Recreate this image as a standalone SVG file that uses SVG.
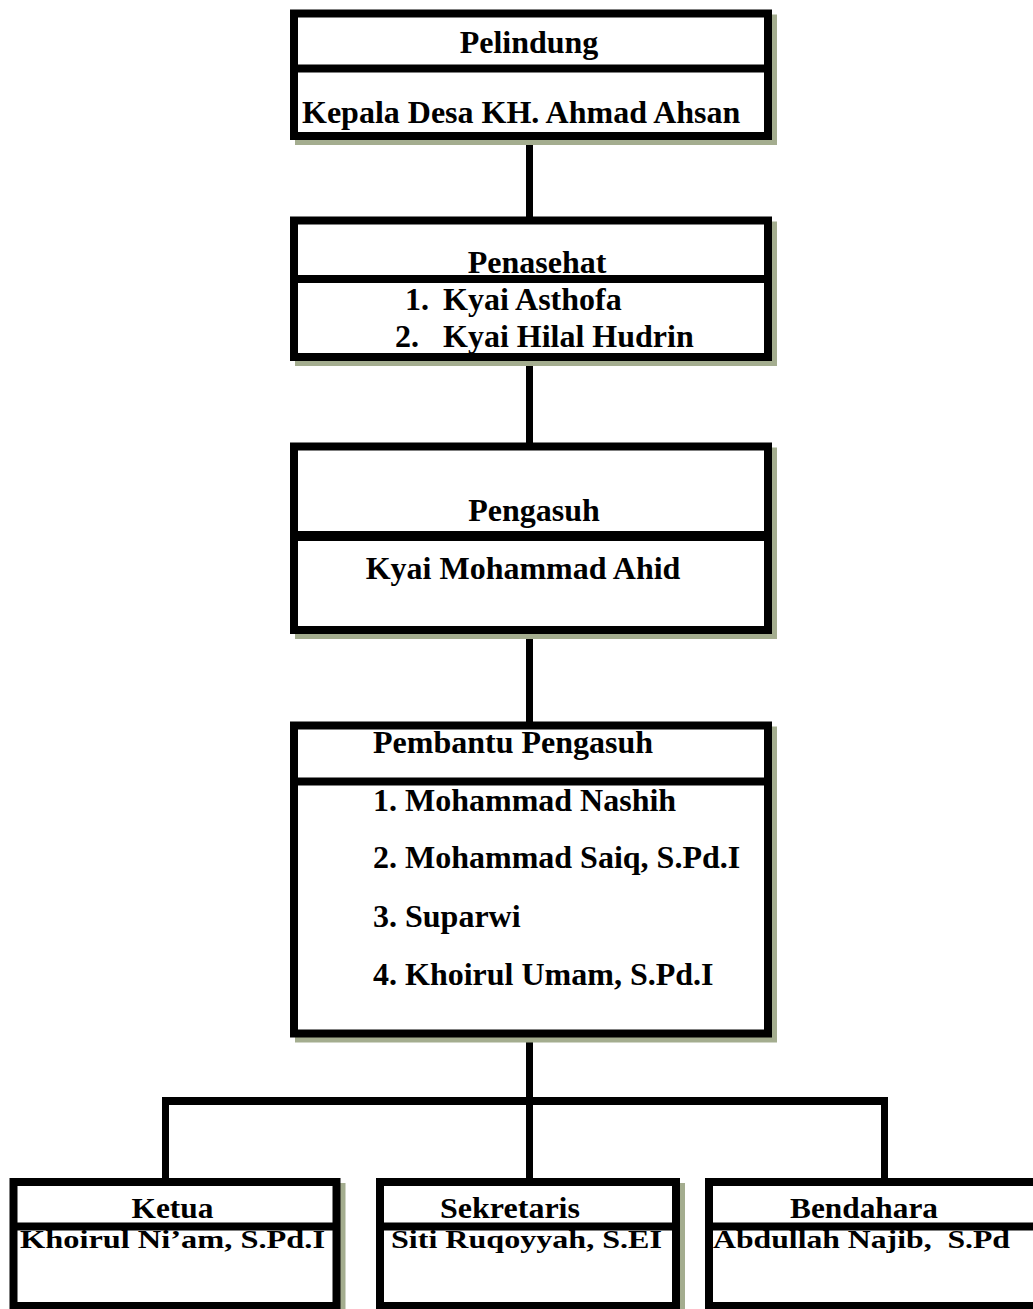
<svg xmlns="http://www.w3.org/2000/svg" width="1033" height="1309" viewBox="0 0 1033 1309">
<style>
.box{fill:#ffffff;stroke:#000000;stroke-width:8}
.div{stroke:#000000;stroke-width:8}
.sh{fill:#a4ad8f;stroke:#a4ad8f;stroke-width:8}
.shd{stroke:#a4ad8f;stroke-width:8}
.t{font-family:"Liberation Serif","Times New Roman",serif;font-weight:bold;font-size:32px;fill:#000000}
.h{font-size:29px}
.n{font-size:26px}
.m{text-anchor:middle}
.con{stroke:#000000;stroke-width:7;fill:none}
</style>
<rect width="1033" height="1309" fill="#ffffff"/>
<g id="connectors">
<line class="con" x1="529.5" y1="138" x2="529.5" y2="218"/>
<line class="con" x1="529.5" y1="355" x2="529.5" y2="444"/>
<line class="con" x1="529.5" y1="628" x2="529.5" y2="723"/>
<line class="con" x1="529.5" y1="1032" x2="529.5" y2="1180"/>
<line class="con" x1="162" y1="1101" x2="888" y2="1101" style="stroke-width:8"/>
<line class="con" x1="165.5" y1="1101" x2="165.5" y2="1180"/>
<line class="con" x1="884.5" y1="1101" x2="884.5" y2="1180"/>
</g>
<g id="pelindung">
<g transform="translate(5,5)"><rect class="sh" x="294" y="13.5" width="474" height="122.5"/><line class="shd" x1="290" y1="68.5" x2="772" y2="68.5"/></g>
<rect class="box" x="294" y="13.5" width="474" height="122.5"/>
<line class="div" x1="290" y1="68.5" x2="772" y2="68.5"/>
<text class="t m" x="529" y="53">Pelindung</text>
<text class="t" x="302" y="123">Kepala Desa KH. Ahmad Ahsan</text>
</g>
<g id="penasehat">
<g transform="translate(5,5)"><rect class="sh" x="294" y="220.5" width="474" height="136.5"/><line class="shd" x1="290" y1="279" x2="772" y2="279"/></g>
<rect class="box" x="294" y="220.5" width="474" height="136.5"/>
<line class="div" x1="290" y1="279" x2="772" y2="279"/>
<text class="t m" x="537" y="273">Penasehat</text>
<text class="t" x="405" y="310">1.</text>
<text class="t" x="443" y="310">Kyai Asthofa</text>
<text class="t" x="395" y="347">2.</text>
<text class="t" x="443" y="347">Kyai Hilal Hudrin</text>
</g>
<g id="pengasuh">
<g transform="translate(5,5)"><rect class="sh" x="294" y="446.5" width="474" height="183.5"/><line class="shd" x1="290" y1="536" x2="772" y2="536" style="stroke-width:10"/></g>
<rect class="box" x="294" y="446.5" width="474" height="183.5"/>
<line class="div" x1="290" y1="536" x2="772" y2="536" style="stroke-width:10"/>
<text class="t m" x="534" y="521">Pengasuh</text>
<text class="t m" x="523" y="579">Kyai Mohammad Ahid</text>
</g>
<g id="pembantu-pengasuh">
<g transform="translate(5,5)"><rect class="sh" x="294" y="725.5" width="474" height="308"/><line class="shd" x1="290" y1="781.5" x2="772" y2="781.5"/></g>
<rect class="box" x="294" y="725.5" width="474" height="308"/>
<line class="div" x1="290" y1="781.5" x2="772" y2="781.5"/>
<text class="t" x="373" y="753">Pembantu Pengasuh</text>
<text class="t" x="373" y="811">1. Mohammad Nashih</text>
<text class="t" x="373" y="868">2. Mohammad Saiq, S.Pd.I</text>
<text class="t" x="373" y="927">3. Suparwi</text>
<text class="t" x="373" y="985">4. Khoirul Umam, S.Pd.I</text>
</g>
<g id="ketua">
<g transform="translate(5,5)"><rect class="sh" x="13.5" y="1182" width="323" height="124"/><line class="shd" x1="10" y1="1226.5" x2="340" y2="1226.5"/></g>
<rect class="box" x="13.5" y="1182" width="323" height="124"/>
<line class="div" x1="10" y1="1226.5" x2="340" y2="1226.5"/>
<text class="t h m" x="172.5" y="1218" textLength="82" lengthAdjust="spacingAndGlyphs">Ketua</text>
<text class="t n m" x="172.5" y="1248" textLength="305" lengthAdjust="spacingAndGlyphs">Khoirul Ni’am, S.Pd.I</text>
</g>
<g id="sekretaris">
<g transform="translate(5,5)"><rect class="sh" x="380" y="1182" width="296" height="124"/><line class="shd" x1="376" y1="1226.5" x2="680" y2="1226.5"/></g>
<rect class="box" x="380" y="1182" width="296" height="124"/>
<line class="div" x1="376" y1="1226.5" x2="680" y2="1226.5"/>
<text class="t h m" x="510" y="1218" textLength="140" lengthAdjust="spacingAndGlyphs">Sekretaris</text>
<text class="t n" x="391" y="1248" textLength="271" lengthAdjust="spacingAndGlyphs">Siti Ruqoyyah, S.EI</text>
</g>
<g id="bendahara">
<g transform="translate(5,5)"><rect class="sh" x="709" y="1182" width="340" height="124"/><line class="shd" x1="705" y1="1226.5" x2="1053" y2="1226.5"/></g>
<rect class="box" x="709" y="1182" width="340" height="124"/>
<line class="div" x1="705" y1="1226.5" x2="1053" y2="1226.5"/>
<text class="t h m" x="864" y="1218" textLength="148" lengthAdjust="spacingAndGlyphs">Bendahara</text>
<text class="t n" x="713" y="1248" textLength="297" lengthAdjust="spacingAndGlyphs" xml:space="preserve">Abdullah Najib,  S.Pd</text>
</g>
</svg>
